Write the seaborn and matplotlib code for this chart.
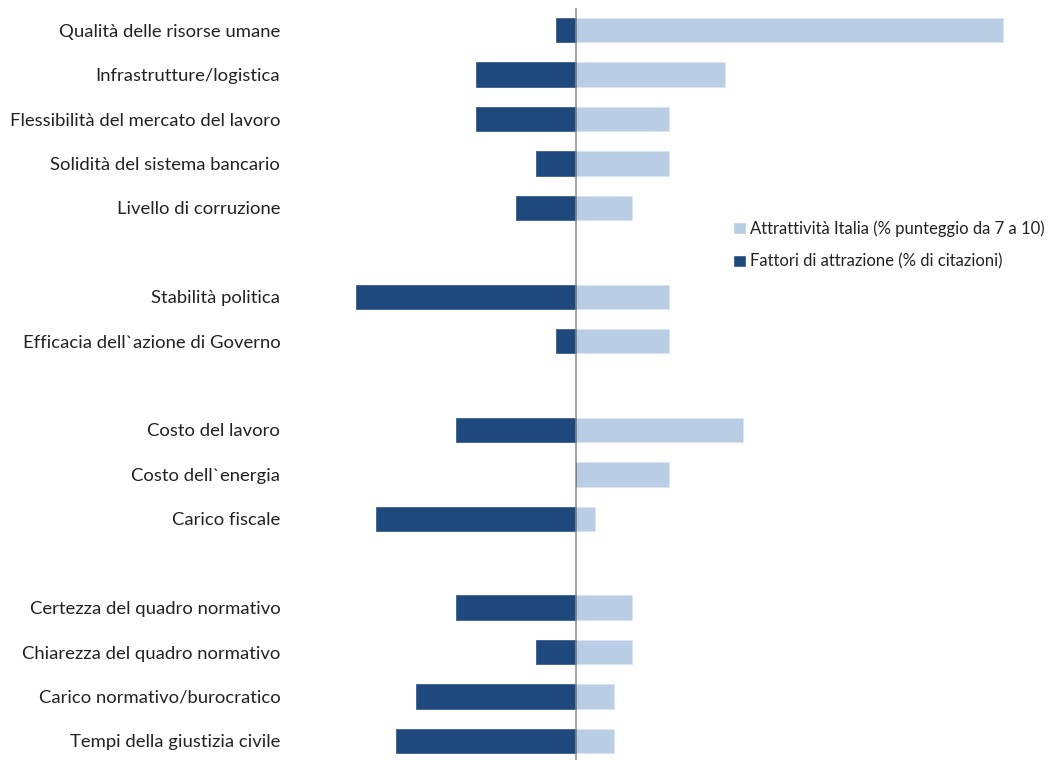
import matplotlib
matplotlib.use("Agg")
import matplotlib.pyplot as plt
import seaborn as sns
import pandas as pd
from matplotlib.patches import Patch

sns.set_theme(style="white")
plt.rcParams['font.family'] = ['Lato', 'DejaVu Sans']

categories = [
    "Qualità delle risorse umane",
    "Infrastrutture/logistica",
    "Flessibilità del mercato del lavoro",
    "Solidità del sistema bancario",
    "Livello di corruzione",
    " ",
    "Stabilità politica",
    "Efficacia dell`azione di Governo",
    "  ",
    "Costo del lavoro",
    "Costo dell`energia",
    "Carico fiscale",
    "   ",
    "Certezza del quadro normativo",
    "Chiarezza del quadro normativo",
    "Carico normativo/burocratico",
    "Tempi della giustizia civile",
]
attrattivita = [21.35, 7.45, 4.65, 4.65, 2.8, None, 4.65, 4.65, None,
                8.35, 4.65, 0.95, None, 2.8, 2.8, 1.9, 1.9]
fattori = [-1, -5, -5, -2, -3, None, -11, -1, None,
           -6, 0, -10, None, -6, -2, -8, -9]

label_attr = "Attrattività Italia (% punteggio da 7 a 10)"
label_fatt = "Fattori di attrazione (% di citazioni)"
col_light = "#B9CDE5"
col_dark = "#1F497D"

df = pd.DataFrame({"cat": categories, "attr": attrattivita, "fatt": fattori}).dropna()

fig = plt.figure(figsize=(10.51, 7.6), dpi=100)
ax = fig.add_axes([290/1051, 0, (1040-290)/1051, 752/760])

sns.barplot(data=df, x="attr", y="cat", order=categories, color=col_light,
            width=0.55, ax=ax, orient="h", saturation=1, edgecolor="#dbe5f1", linewidth=0.6)
sns.barplot(data=df, x="fatt", y="cat", order=categories, color=col_dark,
            width=0.55, ax=ax, orient="h", saturation=1, edgecolor="#3a5f8f", linewidth=0.6)

ax.axvline(0, color="#8c8c8c", lw=1.1, zorder=5)
ax.set_xlim((290-576)/20, (1040-576)/20)
ax.set_ylim(16.43, -0.5)
ax.set_xlabel("")
ax.set_ylabel("")
ax.set_xticks([])
for s in ax.spines.values():
    s.set_visible(False)
ax.tick_params(axis="y", length=0, pad=7, labelsize=13.3, labelcolor="#222222")

handles = [Patch(facecolor=col_light, label=label_attr),
           Patch(facecolor=col_dark, label=label_fatt)]
fig.legend(handles=handles, loc="center left", bbox_to_anchor=(718/1051, 1-245/760),
           frameon=False, fontsize=12, handlelength=0.75, handleheight=0.75,
           handletextpad=0.3, labelspacing=1.0, labelcolor="#222222")

fig.savefig("out.png", dpi=100, facecolor="white")
